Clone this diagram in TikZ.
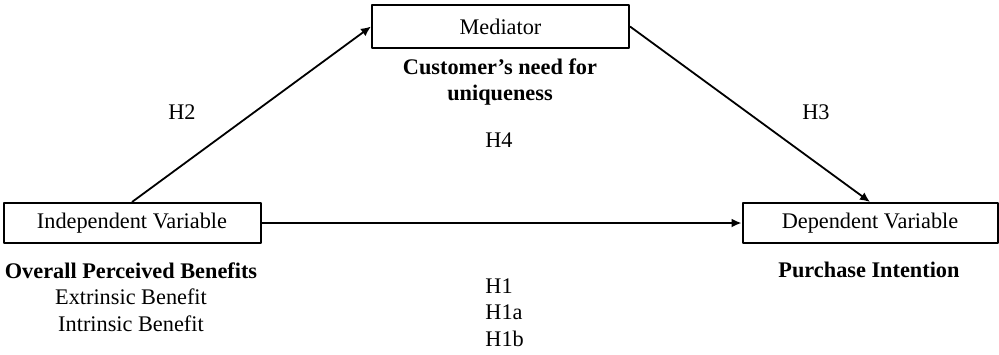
\documentclass[tikz,border=0pt]{standalone}
\usepackage{fontspec}
\setmainfont{Liberation Serif}
\usetikzlibrary{arrows.meta}
\tikzset{
  varbox/.style={draw, line width=1pt, minimum width=128.5pt, minimum height=20pt, inner sep=0pt},
  hyp/.style={inner sep=0pt},
  link/.style={-{Latex[length=5pt,width=4.5pt]}, line width=0.9pt}
}
\begin{document}
\begin{tikzpicture}[x=0.5pt, y=-0.5pt, font=\fontsize{11.15}{13.25}\selectfont, line join=round]
            \useasboundingbox (0,0) rectangle (999,354);
            \node[varbox] (indep) at (132,223) {Independent Variable};
            \node[varbox, minimum height=21.5pt] (med) at (500.5,26.5) {Mediator};
            \node[varbox, minimum width=127.5pt] (dep) at (870,223) {Dependent Variable};
            \draw[link] (indep.north) -- (med.west); %H2
            \draw[link] (med.east) -- (dep.north); %H3
            \draw[link] (indep.east) -- (dep.west); %H1
            \node[hyp, font=\fontsize{11.15}{13.25}\selectfont\bfseries, align=center] (need) at (500,82) {Customer's need for\\uniqueness};
            \node[hyp] (h2) at (182,112) {H2};
            \node[hyp] (h3) at (816,112) {H3};
            \node[hyp] (h4) at (499,140) {H4};
            \node[hyp, anchor=north, align=center] (benefits) at (131,262) {\textbf{Overall Perceived Benefits}\\Extrinsic Benefit\\Intrinsic Benefit};
            \node[hyp, font=\fontsize{11.15}{13.25}\selectfont\bfseries] (intention) at (869,270) {Purchase Intention};
            \node[hyp, anchor=north west, align=left] (h1) at (485,278) {H1\\H1a\\H1b};
\end{tikzpicture}
\end{document}
